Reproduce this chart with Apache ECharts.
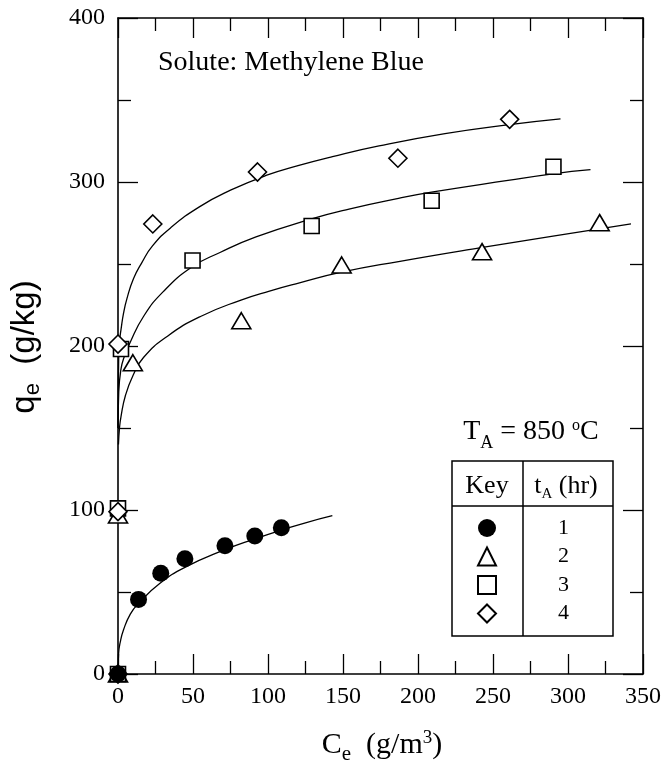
<!DOCTYPE html>
<html><head><meta charset="utf-8">
<script src="https://cdn.jsdelivr.net/npm/echarts@6/dist/echarts.min.js"></script>
<style>html,body{margin:0;padding:0;background:#fff}#c{width:664px;height:768px}</style>
</head><body><div id="c"></div>
<script>
// ---- data ----
const xTickLabels = [0, 50, 100, 150, 200, 250, 300, 350];
const yTickLabels = [0, 100, 200, 300, 400];
const hours = ['1', '2', '3', '4'];

// measured points (Ce g/m3, qe g/kg)
const c1 = [0, 13.7, 28.5, 44.6, 71.3, 91.2, 108.9];
const q1 = [0, 45.5, 61.4, 70.3, 78.2, 84.1, 89.2];
const c2 = [0, 0, 9.9, 82.2, 149.1, 242.7, 321.1];
const q2 = [0, 97, 189.8, 215.4, 249.4, 257.5, 275.2];
const c3 = [0, 0, 2.0, 49.7, 129.1, 209.1, 290.3];
const q3 = [0, 101, 198.2, 252.1, 273.2, 288.6, 309.3];
const c4 = [0, 0, 0, 23.2, 93, 186.6, 261.1];
const q4 = [0, 99, 201.2, 274.4, 306.1, 314.5, 338.2];

// fitted curves
const fit1C = [0, 0.4, 1.5, 3.7, 8.2, 13.7, 28, 44.6, 71.3, 91.2, 108.9, 125, 142.9];
const fit1Q = [0, 12.5, 19.5, 27, 36.5, 43.1, 55.3, 65, 75.8, 82.4, 87.8, 92.2, 96.5];
const fit2C = [0.3, 1, 2, 5, 10, 17, 33, 55, 82, 101, 121, 149, 187, 242, 290, 342];
const fit2Q = [140, 150, 157, 170, 182, 193, 206, 218, 228, 233.5, 238.5, 245, 251.5, 260, 267, 274.5];
const fit3C = [0.05, 0.5, 2, 4, 8, 17, 30, 49, 68, 92, 129, 154, 187, 209, 260, 290, 315];
const fit3Q = [150, 172, 186, 193, 202, 218, 233, 248, 257, 266.5, 277.5, 283.5, 290, 293.8, 301, 305, 307.5];
const fit4C = [0.02, 0.5, 1, 2, 3.7, 6, 10.3, 16, 23, 35, 54.5, 75, 98.7, 120, 143, 174, 218, 261, 295];
const fit4Q = [150, 195, 203, 210, 220, 229, 241, 251, 261, 272, 285, 295, 304, 310, 315.5, 322, 329.5, 335, 338.5];

// ---- chart ----
const zip = (a, b) => a.map((v, i) => [v, b[i]]);
const serif = 'Liberation Serif';
const sans = 'Liberation Sans';

function axisCommon(pos, showLabel, margin) {
  return {
    type: 'value', position: pos,
    axisLine: { show: true, onZero: false, lineStyle: { color: '#000', width: 1.6 } },
    axisTick: { show: true, inside: true, length: 20, lineStyle: { color: '#000', width: 1.3 } },
    minorTick: { show: true, splitNumber: 2, length: 13, lineStyle: { color: '#000', width: 1.3 } },
    axisLabel: { show: showLabel, fontFamily: serif, fontSize: 24, color: '#000', margin: margin },
    splitLine: { show: false }, minorSplitLine: { show: false }
  };
}
const xA = Object.assign(axisCommon('bottom', true, 11), { min: xTickLabels[0], max: xTickLabels[xTickLabels.length - 1], interval: 50 });
const xB = Object.assign(axisCommon('top', false, 8), { min: xTickLabels[0], max: xTickLabels[xTickLabels.length - 1], interval: 50 });
const yA = Object.assign(axisCommon('left', true, 13), { min: yTickLabels[0], max: yTickLabels[yTickLabels.length - 1], interval: 100 });
const yB = Object.assign(axisCommon('right', false, 8), { min: yTickLabels[0], max: yTickLabels[yTickLabels.length - 1], interval: 100 });

const lineS = (d) => ({
  type: 'line', data: d, xAxisIndex: 0, yAxisIndex: 0, showSymbol: false, symbol: 'none',
  smooth: 0.5, silent: true,
  lineStyle: { color: '#000', width: 1.3 }, z: 2
});
const openStyle = { color: '#fff', borderColor: '#000', borderWidth: 1.6, opacity: 1 };

const chart = echarts.init(document.getElementById('c'), null, { renderer: 'canvas' });
chart.setOption({
  animation: false,
  backgroundColor: '#fff',
  grid: { left: 118, right: 18, top: 18, bottom: 94, containLabel: false },
  xAxis: [xA, xB],
  yAxis: [yA, yB],
  legend: {
    data: [
      { name: hours[0], icon: 'circle' },
      { name: hours[1], icon: 'triangle' },
      { name: hours[2], icon: 'rect' },
      { name: hours[3], icon: 'diamond' }
    ],
    orient: 'vertical', left: 472, top: 512,
    itemWidth: 18, itemHeight: 18, itemGap: 6.5, selectedMode: false,
    textStyle: { fontFamily: serif, fontSize: 22, color: '#000', padding: [0, 0, 0, 57] }
  },
  series: [
    lineS(zip(fit1C, fit1Q)), lineS(zip(fit2C, fit2Q)), lineS(zip(fit3C, fit3Q)), lineS(zip(fit4C, fit4Q)),
    { name: hours[1], type: 'scatter', data: zip(c2, q2), symbol: 'triangle', symbolSize: [19, 16], itemStyle: openStyle, z: 3 },
    { name: hours[2], type: 'scatter', data: zip(c3, q3), symbol: 'rect', symbolSize: 15, itemStyle: openStyle, z: 3 },
    { name: hours[3], type: 'scatter', data: zip(c4, q4), symbol: 'diamond', symbolSize: 18, itemStyle: openStyle, z: 3 },
    { name: hours[0], type: 'scatter', data: zip(c1, q1), symbol: 'circle', symbolSize: 17, itemStyle: { color: '#000', borderColor: '#000', borderWidth: 0, opacity: 1 }, z: 4 }
  ],
  graphic: [
    { type: 'text', x: 158, y: 63, style: { text: 'Solute: Methylene Blue', font: '28px "Liberation Serif"', fill: '#000', align: 'left', verticalAlign: 'middle' } },
    { type: 'text', x: 531, y: 432, style: {
        text: '{m|T}{s|A}{m| = 850 }{p|o}{m|C}', align: 'center', verticalAlign: 'middle', fill: '#000',
        rich: {
          m: { fontFamily: serif, fontSize: 28, fill: '#000' },
          s: { fontFamily: serif, fontSize: 18, fill: '#000', padding: [22, 0, 0, 0] },
          p: { fontFamily: serif, fontSize: 16, fill: '#000', padding: [0, 0, 12, 0] }
        } } },
    { type: 'rect', shape: { x: 452, y: 461, width: 161, height: 175 }, style: { fill: 'none', stroke: '#000', lineWidth: 1.5 } },
    { type: 'line', shape: { x1: 452, y1: 506, x2: 613, y2: 506 }, style: { stroke: '#000', lineWidth: 1.5 } },
    { type: 'line', shape: { x1: 523, y1: 461, x2: 523, y2: 636 }, style: { stroke: '#000', lineWidth: 1.5 } },
    { type: 'text', x: 487, y: 486, style: { text: 'Key', font: '26px "Liberation Serif"', fill: '#000', align: 'center', verticalAlign: 'middle' } },
    { type: 'text', x: 566, y: 486, style: {
        text: '{m|t}{s|A}{m| (hr)}', align: 'center', verticalAlign: 'middle', fill: '#000',
        rich: {
          m: { fontFamily: serif, fontSize: 26, fill: '#000' },
          s: { fontFamily: serif, fontSize: 15, fill: '#000', padding: [16, 0, 0, 0] }
        } } },
    { type: 'text', x: 25, y: 347, rotation: Math.PI / 2, style: {
        text: '{m|q}{s|e}{m|  (g/kg)}', align: 'center', verticalAlign: 'middle', fill: '#000',
        rich: {
          m: { fontFamily: sans, fontSize: 33, fill: '#000' },
          s: { fontFamily: sans, fontSize: 22, fill: '#000', padding: [16, 0, 0, 0] }
        } } },
    { type: 'text', x: 382, y: 745, style: {
        text: '{m|C}{s|e}{m|  (g/m}{p|3}{m|)}', align: 'center', verticalAlign: 'middle', fill: '#000',
        rich: {
          m: { fontFamily: serif, fontSize: 30, fill: '#000' },
          s: { fontFamily: serif, fontSize: 21, fill: '#000', padding: [18, 0, 0, 0] },
          p: { fontFamily: serif, fontSize: 19, fill: '#000', padding: [0, 0, 14, 0] }
        } } }
  ]
});
</script>
</body></html>
